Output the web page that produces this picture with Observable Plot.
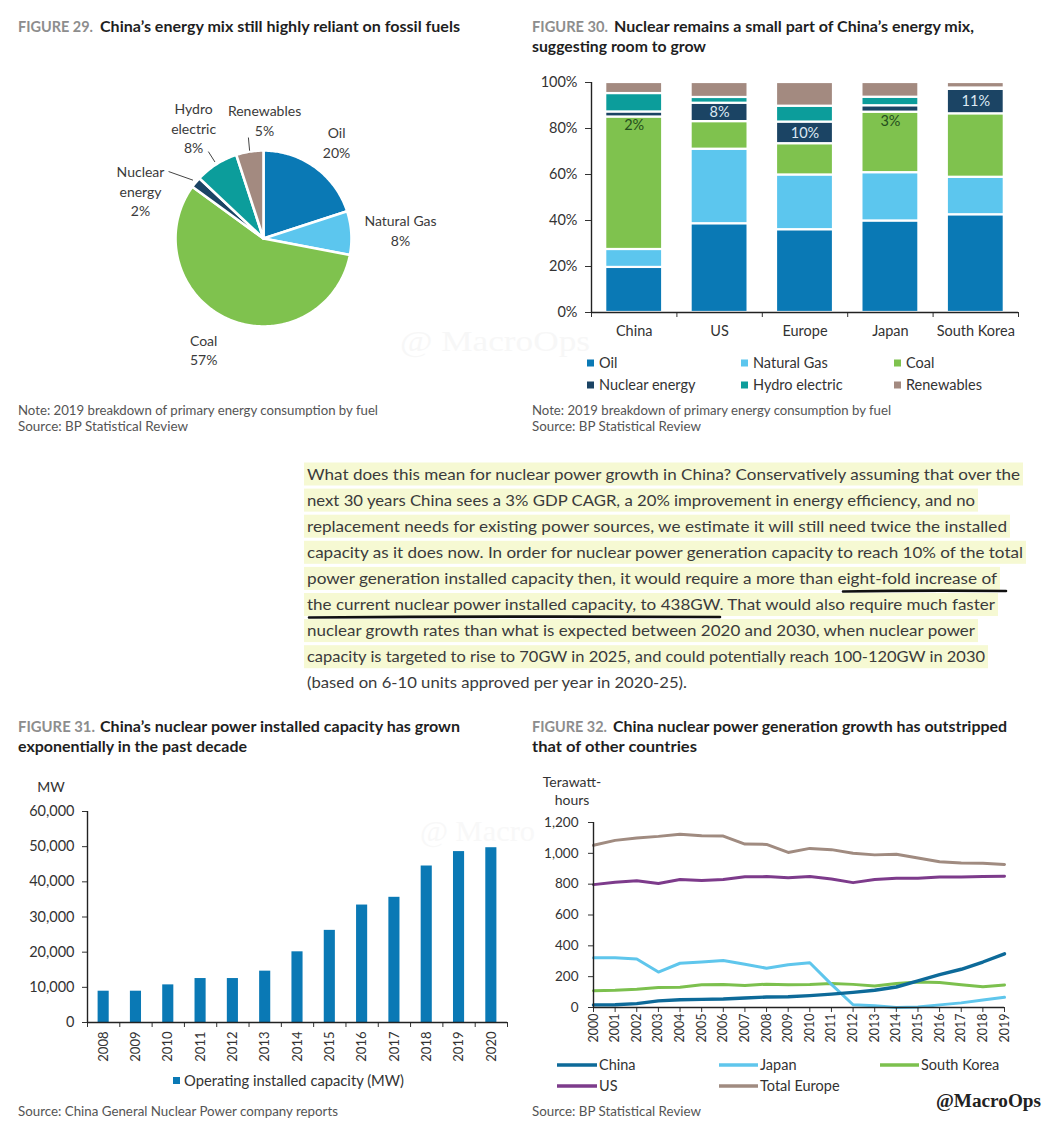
<!DOCTYPE html>
<html><head><meta charset="utf-8">
<script src="https://cdn.jsdelivr.net/npm/d3@7"></script>
<script src="https://cdn.jsdelivr.net/npm/@observablehq/plot@0.6"></script>
<style>
html,body{margin:0;padding:0;background:#fff;}
#page{position:relative;width:1056px;height:1126px;overflow:hidden;background:#fff;font-family:Lato,"Noto Sans",sans-serif;}
.abs{position:absolute;}
</style></head><body><div id="page"></div>
<script>
// ---------------- DATA ----------------
// Figure 29: China 2019 primary energy mix
const pieFuels = ["Oil", "Natural Gas", "Coal", "Nuclear energy", "Hydro electric", "Renewables"];
const pieShares = [20, 8, 57, 2, 8, 5];
const pieLabels = ["Oil\n20%", "Natural Gas\n8%", "Coal\n57%", "Nuclear\nenergy\n2%", "Hydro\nelectric\n8%", "Renewables\n5%"];

// Figure 30: energy mix by country (% of primary energy)
const countries = ["China", "US", "Europe", "Japan", "South Korea"];
const sources = ["Oil", "Natural Gas", "Coal", "Nuclear energy", "Hydro electric", "Renewables"];
const oilShare     = [19.6, 38.6, 36.0, 39.8, 42.5];
const gasShare     = [7.8, 32.4, 23.8, 21.0, 16.3];
const coalShare    = [57.6, 12.0, 13.6, 26.3, 27.6];
const nuclearShare = [2.2, 8.0, 9.4, 2.8, 10.6];
const hydroShare   = [8.0, 2.5, 6.9, 3.7, 0.6];
const renewShare   = [4.8, 6.5, 10.3, 6.4, 2.4];
const nuclearLabels = ["2%", "8%", "10%", "3%", "11%"];
const yTicks30 = [0, 20, 40, 60, 80, 100];

// Figure 31: China operating installed nuclear capacity (MW)
const capYears = ["2008","2009","2010","2011","2012","2013","2014","2015","2016","2017","2018","2019","2020"];
const capacityMW = [8900, 8900, 10700, 12500, 12500, 14600, 20100, 26200, 33400, 35600, 44500, 48600, 49700];
const yTicks31 = [0, 10000, 20000, 30000, 40000, 50000, 60000];

// Figure 32: nuclear generation (TWh)
const genYears = [2000,2001,2002,2003,2004,2005,2006,2007,2008,2009,2010,2011,2012,2013,2014,2015,2016,2017,2018,2019];
const chinaTWh  = [17, 18, 25, 43, 50, 53, 55, 62, 68, 70, 77, 87, 98, 112, 133, 172, 213, 248, 295, 348];
const japanTWh  = [322, 322, 315, 230, 287, 295, 305, 280, 255, 277, 290, 150, 18, 12, 0, 4, 17, 30, 48, 66];
const koreaTWh  = [109, 112, 119, 130, 131, 147, 149, 143, 151, 148, 149, 155, 150, 139, 156, 165, 162, 148, 134, 146];
const usTWh     = [797, 812, 822, 804, 830, 823, 830, 848, 849, 842, 849, 833, 810, 830, 838, 838, 846, 847, 850, 852];
const europeTWh = [1052, 1084, 1100, 1110, 1124, 1114, 1112, 1060, 1058, 1006, 1032, 1024, 1000, 990, 994, 970, 946, 937, 935, 928];
const genSeries = ["China", "Japan", "South Korea", "US", "Total Europe"];
const yTicks32 = [0, 200, 400, 600, 800, 1000, 1200];

// ---------------- STYLE / LAYOUT ----------------
const fuelColors = ["#0a79b5", "#5cc6ee", "#7fc24e", "#1b4464", "#0c9d9b", "#a38a80"];
const seriesColors = {"China": "#0d6a99", "Japan": "#5fc6ec", "South Korea": "#7cc04e", "US": "#7d3b8b", "Total Europe": "#a08b80"};
const seriesWidths = {"China": 3.4, "Japan": 3, "South Korea": 3, "US": 3, "Total Europe": 3};
const FONT = "Lato, 'Noto Sans', sans-serif";
const TXT = "#333";
// pie label placement: angle nudge (deg) from slice middle, radius in pie radii
const pieLabelPlace = [{da: 1, r: 1.38}, {da: 0, r: 1.56}, {da: 5, r: 1.43}, {da: -18.3, r: 1.5}, {da: 0.2, r: 1.49}, {da: 9.5, r: 1.35}];
const pieLeaderPlace = [null, null, null, {r0: 1.04, r1: 1.32, da1: -4.4}, {r0: 1.03, r1: 1.17, da1: 0}, {r0: 1.01, r1: 1.16, da1: 0.5}];

const page = document.getElementById("page");
function place(node, left, top) {
  const d = document.createElement("div");
  d.className = "abs"; d.style.left = left + "px"; d.style.top = top + "px";
  d.appendChild(node); page.appendChild(d);
}
const plotStyle = {background: "transparent", fontFamily: FONT, fontSize: "14px", color: TXT, overflow: "visible"};

// ---------------- OVERLAY (text, paragraph) ----------------
const svg = d3.select(page).append("svg").attr("class", "abs")
  .attr("width", 1056).attr("height", 1126).style("left", "0px").style("top", "0px");

function txt(o) {
  const t = svg.append("text").attr("x", o.x).attr("y", o.y).attr("dy", "0.35em")
    .attr("font-size", o.size || 14).attr("font-weight", o.weight || 400)
    .attr("fill", o.fill || TXT).attr("font-family", o.family || FONT)
    .attr("text-anchor", o.anchor || "start").text(o.s);
  if (o.w) t.attr("textLength", o.w).attr("lengthAdjust", "spacingAndGlyphs");
  return t;
}

// faint watermarks
txt({x: 400, y: 340, s: "@ MacroOps", size: 30, family: "'Liberation Serif', serif", fill: "#f7f7f7", w: 190});
txt({x: 420, y: 830, s: "@ Macro", size: 30, family: "'Liberation Serif', serif", fill: "#f8f8f8", w: 115});

// titles
const figGray = "#8d8d8d", titleDark = "#1f1f1f";
[
  {x: 18, y: 27, s: "FIGURE 29.", w: 75, fill: figGray},
  {x: 100, y: 27, s: "China’s energy mix still highly reliant on fossil fuels", w: 360},
  {x: 532, y: 27, s: "FIGURE 30.", w: 76, fill: figGray},
  {x: 614, y: 27, s: "Nuclear remains a small part of China’s energy mix,", w: 360},
  {x: 532, y: 47, s: "suggesting room to grow", w: 174},
  {x: 18, y: 727, s: "FIGURE 31.", w: 77, fill: figGray},
  {x: 100, y: 727, s: "China’s nuclear power installed capacity has grown", w: 360},
  {x: 18, y: 747, s: "exponentially in the past decade", w: 229},
  {x: 532, y: 727, s: "FIGURE 32.", w: 75, fill: figGray},
  {x: 613, y: 727, s: "China nuclear power generation growth has outstripped", w: 394},
  {x: 532, y: 747, s: "that of other countries", w: 165}
].forEach(o => txt({...o, size: 14.5, weight: 700, fill: o.fill || titleDark}));

// notes & sources
const noteGray = "#555";
[
  {x: 18, y: 411, s: "Note: 2019 breakdown of primary energy consumption by fuel", w: 360},
  {x: 18, y: 427, s: "Source: BP Statistical Review", w: 170},
  {x: 532, y: 411, s: "Note: 2019 breakdown of primary energy consumption by fuel", w: 359},
  {x: 532, y: 427, s: "Source: BP Statistical Review", w: 169},
  {x: 18, y: 1112, s: "Source: China General Nuclear Power company reports", w: 320},
  {x: 532, y: 1112, s: "Source: BP Statistical Review", w: 169}
].forEach(o => txt({...o, size: 12.5, fill: noteGray}));

// paragraph
const paraLines = [
  "What does this mean for nuclear power growth in China? Conservatively assuming that over the",
  "next 30 years China sees a 3% GDP CAGR, a 20% improvement in energy efficiency, and no",
  "replacement needs for existing power sources, we estimate it will still need twice the installed",
  "capacity as it does now. In order for nuclear power generation capacity to reach 10% of the total",
  "power generation installed capacity then, it would require a more than eight-fold increase of",
  "the current nuclear power installed capacity, to 438GW. That would also require much faster",
  "nuclear growth rates than what is expected between 2020 and 2030, when nuclear power",
  "capacity is targeted to rise to 70GW in 2025, and could potentially reach 100-120GW in 2030",
  "(based on 6-10 units approved per year in 2020-25)."
];
const paraWidths = [713, 668, 700, 716, 690, 688, 668, 678, 380];
const paraHighlighted = [true, true, true, true, true, true, true, true, false];
paraLines.forEach((s, i) => {
  const y = 474 + 26.1 * i;
  if (paraHighlighted[i]) svg.append("rect").attr("x", 304).attr("y", y - 11.5).attr("width", paraWidths[i] + 6).attr("height", 23).attr("fill", "#f6f9d3");
});
paraLines.forEach((s, i) => {
  const y = 474 + 26.1 * i;
  txt({x: 307, y, s, size: 16, fill: "#3b3b3b", w: paraWidths[i]});
});
svg.append("path").attr("d", "M843,591.5 Q925,590 1006,591").attr("stroke", "#111").attr("stroke-width", 2.6).attr("fill", "none").attr("stroke-linecap", "round");
svg.append("path").attr("d", "M309,617.5 Q515,616 720,617").attr("stroke", "#111").attr("stroke-width", 2.6).attr("fill", "none").attr("stroke-linecap", "round");

// axis titles
txt({x: 51, y: 787, s: "MW", size: 14, anchor: "middle"});
txt({x: 572, y: 782, s: "Terawatt-", size: 14, anchor: "middle"});
txt({x: 572, y: 800, s: "hours", size: 14, anchor: "middle"});

// legend fig 30
const legCols = [587, 741, 894], legRows = [363, 385];
sources.forEach((s, i) => {
  const x = legCols[i % 3], y = legRows[Math.floor(i / 3)];
  svg.append("rect").attr("x", x).attr("y", y - 3.5).attr("width", 7).attr("height", 7).attr("fill", fuelColors[i]);
  txt({x: x + 12, y, s, size: 14.5});
});
// legend fig 31
svg.append("rect").attr("x", 173).attr("y", 1077).attr("width", 7).attr("height", 7).attr("fill", "#0a79b5");
txt({x: 184, y: 1080.5, s: "Operating installed capacity (MW)", size: 15, w: 220});
// legend fig 32
const lgCols = [[557, 597], [719, 758], [880, 919]], lgRows = [1065, 1086];
const lgOrder = ["China", "Japan", "South Korea", "US", "Total Europe"];
lgOrder.forEach((s, i) => {
  const c = lgCols[i % 3], y = lgRows[Math.floor(i / 3)];
  svg.append("line").attr("x1", c[0]).attr("x2", c[1]).attr("y1", y).attr("y2", y).attr("stroke", seriesColors[s]).attr("stroke-width", 3.5);
  txt({x: c[1] + 2, y, s, size: 14.5});
});
// signature
txt({x: 936, y: 1101, s: "@MacroOps", size: 18, weight: 700, family: "'Liberation Serif', 'DejaVu Serif', serif", fill: "#222", w: 105});

// ---------------- FIGURE 29: PIE ----------------
{
  const R = 88, W = 440, H = 340;
  const arcs = d3.pie().sort(null)(pieShares);
  const deg = Math.PI / 180;
  const slices = arcs.map((a, k) => {
    const n = Math.max(2, Math.ceil((a.endAngle - a.startAngle) / deg));
    const pts = [{x: 0, y: 0}];
    for (let j = 0; j <= n; j++) {
      const t = a.startAngle + (a.endAngle - a.startAngle) * j / n;
      pts.push({x: Math.sin(t), y: -Math.cos(t)});
    }
    return pts;
  });
  const labelData = arcs.map((a, k) => {
    const m = (a.startAngle + a.endAngle) / 2 + pieLabelPlace[k].da * deg, r = pieLabelPlace[k].r;
    return {x: r * Math.sin(m), y: -r * Math.cos(m), text: pieLabels[k]};
  });
  const leaders = arcs.map((a, k) => {
    const p = pieLeaderPlace[k]; if (!p) return null;
    const m = (a.startAngle + a.endAngle) / 2, m1 = m + p.da1 * deg;
    return {x1: p.r0 * Math.sin(m), y1: -p.r0 * Math.cos(m), x2: p.r1 * Math.sin(m1), y2: -p.r1 * Math.cos(m1)};
  }).filter(d => d);
  const pie = Plot.plot({
    width: W, height: H, margin: 0, style: plotStyle,
    x: {domain: [-W / 2 / R, W / 2 / R], axis: null},
    y: {domain: [H / 2 / R, -H / 2 / R], axis: null},
    marks: [
      ...slices.map((pts, k) => Plot.line(pts, {x: "x", y: "y", fill: fuelColors[k], stroke: "white", strokeWidth: 2.6, strokeLinejoin: "round", curve: "linear-closed"})),
      Plot.link(leaders, {x1: "x1", y1: "y1", x2: "x2", y2: "y2", stroke: "#444", strokeWidth: 1}),
      Plot.text(labelData, {x: "x", y: "y", text: "text", fontSize: 14, lineHeight: 1.4, fill: "#3a3a3a"})
    ]
  });
  place(pie, 263 - W / 2, 238 - H / 2);
}

// ---------------- FIGURE 30: STACKED BARS ----------------
{
  const shares = [oilShare, gasShare, coalShare, nuclearShare, hydroShare, renewShare];
  const rows = [];
  countries.forEach((c, i) => {
    let acc = 0;
    sources.forEach((s, k) => {
      rows.push({i, country: c, src: s, y1: acc, y2: acc + shares[k][i]});
      acc += shares[k][i];
    });
  });
  const nuc = rows.filter(d => d.src === "Nuclear energy").map((d, j) => {
    const inside = nuclearShare[j] >= 5;
    return {x: d.i + 0.5, y: inside ? (d.y1 + d.y2) / 2 : d.y1 - 3.8, text: nuclearLabels[j], fill: inside ? "#dde9f3" : "#244f1d"};
  });
  const n = countries.length;
  const chart = Plot.plot({
    width: 488, height: 270, marginLeft: 51, marginRight: 10, marginTop: 8, marginBottom: 32,
    style: plotStyle,
    x: {domain: [0, n], axis: null},
    y: {domain: [0, 100], axis: null},
    color: {domain: sources, range: fuelColors},
    marks: [
      Plot.rect(rows, {x1: d => d.i, x2: d => d.i + 1, y1: "y1", y2: "y2", fill: "src", stroke: "white", strokeWidth: 2.2, insetLeft: 14.2, insetRight: 14.2}),
      Plot.text(nuc, {x: "x", y: "y", text: "text", fill: "fill", fontSize: 14.5}),
      Plot.axisY({ticks: yTicks30, tickFormat: d => d + "%", tickSize: 6, tickPadding: 8, fontSize: 14.5, label: null}),
      Plot.axisX({ticks: d3.range(n + 1), tickFormat: () => "", tickSize: 5, label: null}),
      Plot.axisX({ticks: d3.range(n).map(i => i + 0.5), tickFormat: v => countries[Math.floor(v)], tickSize: 0, tickPadding: 13, fontSize: 14.5, label: null}),
      Plot.ruleX([0], {stroke: "#222", strokeWidth: 1.4}),
      Plot.ruleY([0], {stroke: "#222", strokeWidth: 1.4})
    ]
  });
  place(chart, 540, 74);
}

// ---------------- FIGURE 31: CAPACITY BARS ----------------
{
  const data = capYears.map((y, i) => ({i, year: y, mw: capacityMW[i]}));
  const n = capYears.length;
  const chart = Plot.plot({
    width: 491, height: 269, marginLeft: 61, marginRight: 10, marginTop: 10, marginBottom: 48,
    style: plotStyle,
    x: {domain: [0, n], axis: null},
    y: {domain: [0, 60000], axis: null},
    marks: [
      Plot.rect(data, {x1: d => d.i, x2: d => d.i + 1, y1: 0, y2: "mw", fill: "#0a79b5", insetLeft: 10.6, insetRight: 10.6}),
      Plot.axisY({ticks: yTicks31, tickFormat: d3.format(","), tickSize: 5, tickPadding: 8, fontSize: 14.5, label: null}),
      Plot.axisX({ticks: d3.range(n + 1), tickFormat: () => "", tickSize: 5, label: null}),
      Plot.axisX({ticks: d3.range(n).map(i => i + 0.5), tickFormat: v => capYears[Math.floor(v)], tickSize: 0, tickPadding: 9, tickRotate: -90, fontSize: 13, label: null}),
      Plot.ruleX([0], {stroke: "#222", strokeWidth: 1.4}),
      Plot.ruleY([0], {stroke: "#222", strokeWidth: 1.4})
    ]
  });
  place(chart, 26, 801);
}

// ---------------- FIGURE 32: GENERATION LINES ----------------
{
  const values = {"China": chinaTWh, "Japan": japanTWh, "South Korea": koreaTWh, "US": usTWh, "Total Europe": europeTWh};
  const drawOrder = ["Total Europe", "US", "South Korea", "Japan", "China"];
  const chart = Plot.plot({
    width: 475, height: 235, marginLeft: 50, marginRight: 14, marginTop: 10, marginBottom: 40,
    style: plotStyle,
    x: {domain: [2000, 2019], axis: null},
    y: {domain: [0, 1200], axis: null},
    marks: [
      ...drawOrder.map(s => Plot.line(genYears.map((y, i) => ({year: y, v: values[s][i]})), {x: "year", y: "v", stroke: seriesColors[s], strokeWidth: seriesWidths[s], strokeLinejoin: "round"})),
      Plot.axisY({ticks: yTicks32, tickFormat: d3.format(","), tickSize: 5, tickPadding: 10, fontSize: 13.5, label: null}),
      Plot.axisX({ticks: genYears, tickFormat: d => String(d), tickSize: 5, tickPadding: 1, tickRotate: -90, fontSize: 12.5, label: null}),
      Plot.ruleX([2000], {stroke: "#222", strokeWidth: 1.4}),
      Plot.ruleY([0], {stroke: "#222", strokeWidth: 1.4})
    ]
  });
  place(chart, 543, 812);
}
</script></body></html>
